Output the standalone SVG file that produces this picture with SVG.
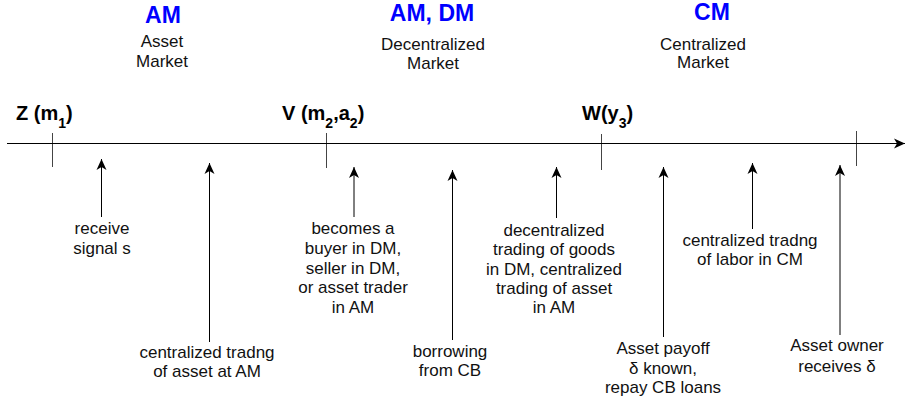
<svg xmlns="http://www.w3.org/2000/svg" width="906" height="404" viewBox="0 0 906 404">
<defs>
<marker id="ah" markerUnits="userSpaceOnUse" markerWidth="14" markerHeight="12" refX="11" refY="5" orient="auto" overflow="visible">
<path d="M11,5 L0,0 L3,5 L0,10 Z" fill="#000"/>
</marker>
</defs>
<style>
.t{font-family:"Liberation Sans",Arial,sans-serif;font-size:17px;fill:#111;text-anchor:middle}
.h{font-family:"Liberation Sans",Arial,sans-serif;font-size:23px;font-weight:bold;fill:#0000ff;text-anchor:middle}
.p{font-family:"Liberation Sans",Arial,sans-serif;font-size:20px;font-weight:bold;fill:#000}
.sub{font-size:14px}
.ln{stroke:#000;stroke-width:1;fill:none}
.tk{stroke:#444;stroke-width:1}
</style>
<rect width="906" height="404" fill="#fff"/>
<g id="markets">
<g id="am"><text class="h" x="163" y="23">AM</text><text class="t" x="162" y="47">Asset</text><text class="t" x="162" y="67">Market</text></g>
<g id="amdm"><text class="h" x="432" y="21">AM, DM</text><text class="t" x="433" y="50">Decentralized</text><text class="t" x="433" y="69">Market</text></g>
<g id="cm"><text class="h" x="712" y="20">CM</text><text class="t" x="703" y="50">Centralized</text><text class="t" x="703" y="68">Market</text></g>
</g>
<g id="points">
<g id="z"><text class="p" x="16" y="120">Z (m<tspan class="sub" dy="8">1</tspan><tspan dy="-8">)</tspan></text><line class="tk" x1="52.5" y1="133" x2="52.5" y2="167"/></g>
<g id="v"><text class="p" x="282" y="120">V (m<tspan class="sub" dy="8">2</tspan><tspan dy="-8">,a</tspan><tspan class="sub" dy="8">2</tspan><tspan dy="-8">)</tspan></text><line class="tk" x1="326.5" y1="133" x2="326.5" y2="168"/></g>
<g id="w"><text class="p" x="582" y="120">W(y<tspan class="sub" dy="8">3</tspan><tspan dy="-8">)</tspan></text><line class="tk" x1="601.5" y1="134" x2="601.5" y2="170"/></g>
<g id="end"><line class="tk" x1="856.5" y1="131" x2="856.5" y2="166"/></g>
</g>
<g id="connectors">
<line class="ln" x1="7" y1="143.5" x2="905" y2="143.5" marker-end="url(#ah)"/>
<line class="ln" x1="101.5" y1="217" x2="101.5" y2="159" marker-end="url(#ah)"/>
<line class="ln" x1="209.5" y1="342" x2="209.5" y2="163" marker-end="url(#ah)"/>
<line class="ln" x1="354" y1="217" x2="354" y2="167" marker-end="url(#ah)"/>
<line class="ln" x1="452.5" y1="340" x2="452.5" y2="170" marker-end="url(#ah)"/>
<line class="ln" x1="556.5" y1="218" x2="556.5" y2="167" marker-end="url(#ah)"/>
<line class="ln" x1="663.5" y1="337" x2="663.5" y2="167" marker-end="url(#ah)"/>
<line class="ln" x1="752.5" y1="229" x2="752.5" y2="163" marker-end="url(#ah)"/>
<line class="ln" x1="840" y1="335" x2="840" y2="165" marker-end="url(#ah)"/>
</g>
<g id="labels">
<g id="l1"><text class="t" x="102" y="234">receive</text><text class="t" x="102" y="254">signal s</text></g>
<g id="l2"><text class="t" x="207" y="358">centralized tradng</text><text class="t" x="207" y="377">of asset at AM</text></g>
<g id="l3"><text class="t" x="353" y="234">becomes a</text><text class="t" x="353" y="254">buyer in DM,</text><text class="t" x="353" y="274">seller in DM,</text><text class="t" x="353" y="293">or asset trader</text><text class="t" x="353" y="313">in AM</text></g>
<g id="l4"><text class="t" x="450" y="357">borrowing</text><text class="t" x="450" y="376">from CB</text></g>
<g id="l5"><text class="t" x="554" y="236">decentralized</text><text class="t" x="554" y="255">trading of goods</text><text class="t" x="554" y="275">in DM, centralized</text><text class="t" x="554" y="294">trading of asset</text><text class="t" x="554" y="313">in AM</text></g>
<g id="l6"><text class="t" x="750" y="246">centralized tradng</text><text class="t" x="750" y="265">of labor in CM</text></g>
<g id="l7"><text class="t" x="663" y="354">Asset payoff</text><text class="t" x="663" y="374">δ known,</text><text class="t" x="663" y="393">repay CB loans</text></g>
<g id="l8"><text class="t" x="837" y="351">Asset owner</text><text class="t" x="837" y="372">receives δ</text></g>
</g>
</svg>
